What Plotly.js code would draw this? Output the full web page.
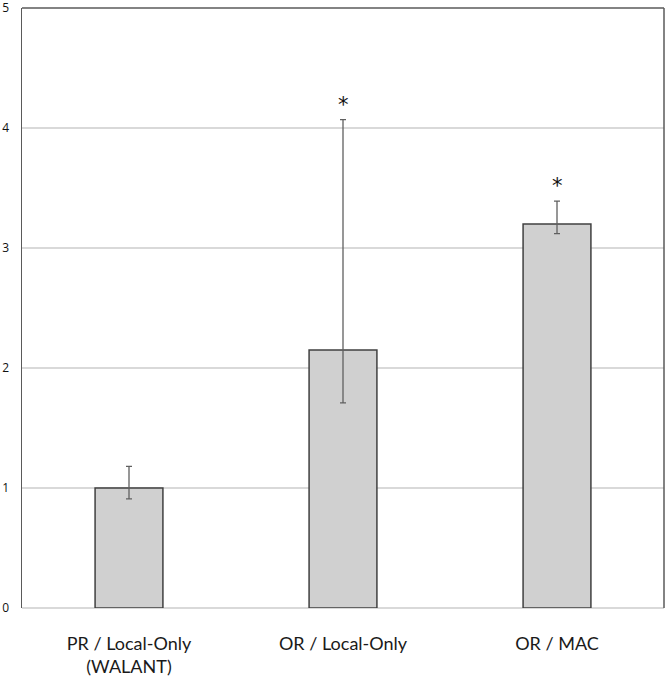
<!DOCTYPE html>
<html><head><meta charset="utf-8">
<script src="https://cdn.plot.ly/plotly-3.0.1.min.js"></script>
<style>body{margin:0;padding:0;background:#fff}#chart{width:666px;height:691px}</style>
</head><body><div id="chart"></div>
<script>
const categories = ["PR / Local-Only<br>(WALANT)", "OR / Local-Only", "OR / MAC"];
const values = [1.0, 2.15, 3.2];
const errUpper = [1.18, 4.07, 3.39];
const errLower = [0.91, 1.71, 3.12];
const significant = [false, true, true];
const yTicks = [0, 1, 2, 3, 4, 5];

const trace = {
  type: 'bar',
  x: categories,
  y: values,
  marker: {color: '#d0d0d0', line: {color: '#404040', width: 1.5}},
  error_y: {
    type: 'data', symmetric: false,
    array: values.map((v, i) => errUpper[i] - v),
    arrayminus: values.map((v, i) => v - errLower[i]),
    color: '#606060', thickness: 1.3, width: 3
  },
  hoverinfo: 'none'
};

const annotations = categories.map((c, i) => significant[i] ? {
  x: c, y: errUpper[i], xref: 'x', yref: 'y', text: '*', showarrow: false,
  yanchor: 'bottom', yshift: 1, font: {family: 'DejaVu Sans', size: 21, color: '#111'}
} : null).filter(a => a);

const layout = {
  width: 666, height: 691,
  margin: {l: 22, r: 2, t: 8, b: 83},
  paper_bgcolor: '#fff', plot_bgcolor: '#fff',
  showlegend: false,
  bargap: 0.683,
  xaxis: {
    range: [-0.5, 2.5], showgrid: false, zeroline: false, showline: false,
    ticks: '', tickfont: {family: 'Lato', size: 18, color: '#1a1a1a'},
    ticklabelstandoff: 23
  },
  yaxis: {
    range: [0, 5.0001], tickvals: yTicks, ticktext: yTicks.map(String),
    showgrid: true, gridcolor: '#d9d9d9', gridwidth: 1.3,
    zeroline: true, zerolinecolor: '#d9d9d9', zerolinewidth: 1.3,
    showline: true, linecolor: '#5a5a5a', linewidth: 1.5,
    ticks: '', tickfont: {family: 'Open Sans', size: 12, color: '#111'},
    ticklabelstandoff: 9, ticklabeloverflow: 'allow'
  },
  shapes: [
    {type: 'line', xref: 'paper', yref: 'paper', x0: 0, x1: 1, y0: 1, y1: 1, line: {color: '#5a5a5a', width: 1.5}},
    {type: 'line', xref: 'paper', yref: 'paper', x0: 1, x1: 1, y0: 0, y1: 1, line: {color: '#5a5a5a', width: 1.5}}
  ],
  annotations: annotations
};

Plotly.newPlot('chart', [trace], layout, {staticPlot: true});
</script></body></html>
